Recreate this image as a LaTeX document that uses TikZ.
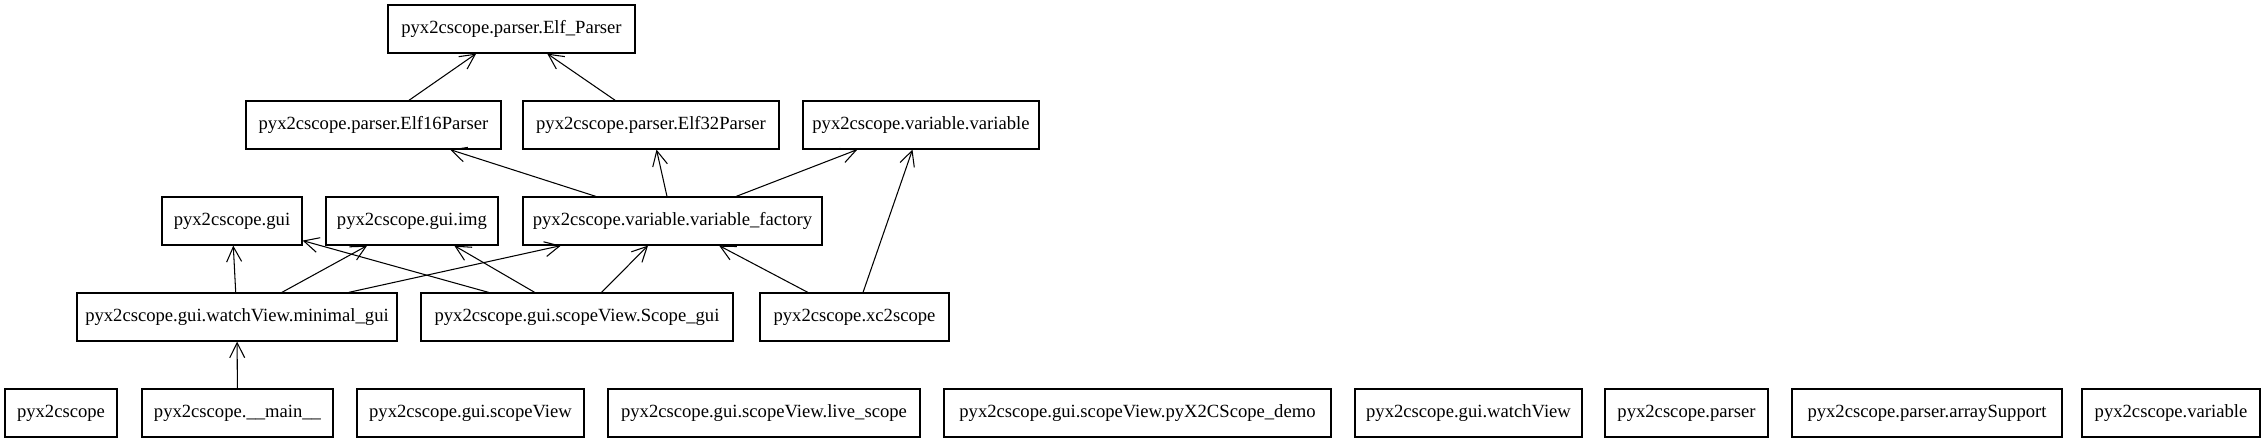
\documentclass[tikz,border=0pt]{standalone}
\usepackage{fontspec}
\setmainfont{Liberation Serif}
\usetikzlibrary{positioning, arrows.meta}

\begin{document}
\begin{tikzpicture}[
  modbox/.style={draw, line width=0.7pt, inner sep=0pt, minimum height=0.96cm, font=\fontsize{10.6}{12}\selectfont},
  dep/.style={-{Straight Barb[length=3mm, width=3mm]}, line width=0.6pt}
]
\useasboundingbox (0,0) rectangle (45.24,-8.86);

% top rows
\node[modbox, minimum width=4.94cm] (elfp) at (10.23,-0.58) {pyx2cscope.parser.Elf\_Parser};

\node[modbox, minimum width=5.10cm] (elf16) at (7.47,-2.50) {pyx2cscope.parser.Elf16Parser};
\node[modbox, minimum width=5.12cm] (elf32) at (13.02,-2.50) {pyx2cscope.parser.Elf32Parser};
\node[modbox, minimum width=4.72cm] (varvar) at (18.42,-2.50) {pyx2cscope.variable.variable};

\node[modbox, minimum width=2.80cm] (gui) at (4.64,-4.42) {pyx2cscope.gui};
\node[modbox, minimum width=3.44cm] (guiimg) at (8.24,-4.42) {pyx2cscope.gui.img};
\node[modbox, minimum width=5.98cm] (varfac) at (13.45,-4.42) {pyx2cscope.variable.variable\_factory};

\node[modbox, minimum width=6.40cm] (mingui) at (4.74,-6.34) {pyx2cscope.gui.watchView.minimal\_gui};
\node[modbox, minimum width=6.24cm] (scopegui) at (11.54,-6.34) {pyx2cscope.gui.scopeView.Scope\_gui};
\node[modbox, minimum width=3.78cm] (xcscope) at (17.09,-6.34) {pyx2cscope.xc2scope};

% bottom row
\node[modbox, minimum width=2.24cm] (pkg) at (1.22,-8.26) {pyx2cscope};
\node[modbox, minimum width=3.82cm] (mainmod) at (4.75,-8.26) {pyx2cscope.\_\_main\_\_};
\node[modbox, minimum width=4.54cm] (scopeview) at (9.41,-8.26) {pyx2cscope.gui.scopeView};
\node[modbox, minimum width=6.24cm] (livescope) at (15.28,-8.26) {pyx2cscope.gui.scopeView.live\_scope};
\node[modbox, minimum width=7.74cm] (demo) at (22.75,-8.26) {pyx2cscope.gui.scopeView.pyX2CScope\_demo};
\node[modbox, minimum width=4.54cm] (watchview) at (29.37,-8.26) {pyx2cscope.gui.watchView};
\node[modbox, minimum width=3.26cm] (parser) at (33.73,-8.26) {pyx2cscope.parser};
\node[modbox, minimum width=5.40cm] (arrsup) at (38.54,-8.26) {pyx2cscope.parser.arraySupport};
\node[modbox, minimum width=3.56cm] (variable) at (43.42,-8.26) {pyx2cscope.variable};

% imports
\draw[dep] (elf16) -- (elfp);
\draw[dep] (elf32) -- (elfp);
\draw[dep] (varfac) -- (elf16);
\draw[dep] (varfac) -- (elf32);
\draw[dep] (varfac) -- (varvar);
\draw[dep] (xcscope) -- (varvar);
\draw[dep] (xcscope) -- (varfac);
\draw[dep] (scopegui) -- (varfac);
\draw[dep] (scopegui) -- (gui);
\draw[dep] (scopegui) -- (guiimg);
\draw[dep] (mingui) -- (gui);
\draw[dep] (mingui) -- (guiimg);
\draw[dep] (mingui) -- (varfac);
\draw[dep] (mainmod) -- (mingui);

\end{tikzpicture}
\end{document}
